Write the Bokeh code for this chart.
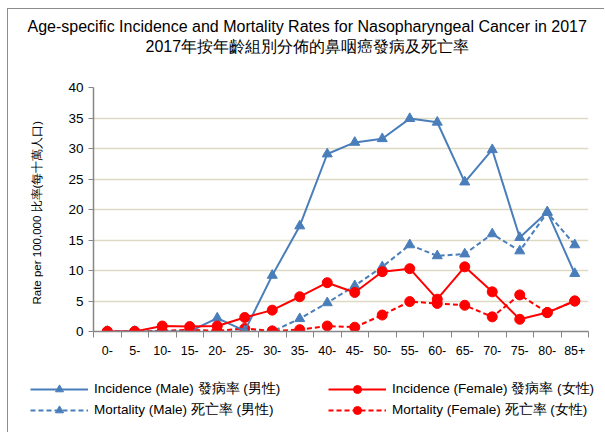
from bokeh.plotting import figure
from bokeh.models import (Range1d, FixedTicker, Legend, LegendItem, Title, ColumnDataSource)
from bokeh.embed import file_html
from bokeh.resources import INLINE

age_groups = ["0-", "5-", "10-", "15-", "20-", "25-", "30-", "35-", "40-", "45-",
              "50-", "55-", "60-", "65-", "70-", "75-", "80-", "85+"]
incidence_male = [0, 0, 0, 0, 2.2, 0.1, 9.2, 17.3, 29.1, 31.0, 31.6, 34.9, 34.3, 24.5, 29.8, 15.4, 19.6, 9.5]
incidence_female = [0, 0, 0.9, 0.8, 0.9, 2.3, 3.5, 5.7, 8.0, 6.4, 9.8, 10.3, 5.3, 10.6, 6.5, 2.0, 3.1, 5.0]
mortality_male = [0, 0, 0, 0, 0, 0, 0, 2.1, 4.7, 7.5, 10.6, 14.2, 12.4, 12.7, 16.0, 13.2, 19.5, 14.2]
mortality_female = [0, 0, 0.1, 0.3, 0.1, 0.5, 0.1, 0.3, 0.9, 0.7, 2.7, 4.9, 4.6, 4.3, 2.4, 6.0, 3.1, 5.0]
y_ticks = [0, 5, 10, 15, 20, 25, 30, 35, 40]
legend_labels = ["Incidence (Male) 發病率 (男性)", "Mortality (Male) 死亡率 (男性)",
                 "Incidence (Female) 發病率 (女性)", "Mortality (Female) 死亡率 (女性)"]

xs = [i + 0.5 for i in range(len(age_groups))]
src = ColumnDataSource(dict(x=xs, im=incidence_male, iff=incidence_female,
                            mm=mortality_male, mf=mortality_female))

BLUE = "#4a7ebb"
RED = "#ff0000"
FONT = "Liberation Sans"
W = 597

p = figure(width=W, height=360, output_backend="svg", toolbar_location=None,
           x_range=Range1d(0, len(age_groups)), y_range=Range1d(0, 40),
           min_border_left=85, min_border_right=17, min_border_top=78, min_border_bottom=38)
p.styles = {"border-left": "1px solid #8c8c8c", "border-top": "1px solid #8c8c8c",
            "margin-left": "7px", "margin-top": "8px"}
p.outline_line_color = None
p.background_fill_color = "white"

# titles (a blank spacer title keeps the two title lines clear of the frame)
spacer = Title(text=" ", text_font=FONT, text_font_size="1px", standoff=29)
t2 = Title(text="2017年按年齡組別分佈的鼻咽癌發病及死亡率", align="left", offset=52,
           text_font=FONT, text_font_size="16px", text_font_style="normal",
           text_color="#000000", standoff=2)
t1 = Title(text="Age-specific Incidence and Mortality Rates for Nasopharyngeal Cancer in 2017",
           align="left", offset=-66, text_font=FONT, text_font_size="16px",
           text_font_style="normal", text_color="#000000", standoff=0)
p.add_layout(spacer, "above")
p.add_layout(t2, "above")
p.add_layout(t1, "above")

# x axis
xt = FixedTicker(ticks=xs, minor_ticks=list(range(len(age_groups) + 1)))
p.xaxis.ticker = xt
p.xaxis.major_label_overrides = {x: lab for x, lab in zip(xs, age_groups)}
p.xaxis.major_tick_out = 0
p.xaxis.major_tick_in = 0
p.xaxis.minor_tick_out = 6
p.xaxis.minor_tick_in = 0
p.xaxis.minor_tick_line_color = "#868686"
p.xaxis.axis_line_color = "#868686"
p.xaxis.axis_line_width = 1.5
p.xaxis.major_label_text_font = FONT
p.xaxis.major_label_text_font_size = "12.5px"
p.xaxis.major_label_text_color = "#000000"
p.xaxis.major_label_standoff = 8
p.xgrid.grid_line_color = None

# y axis
p.yaxis.ticker = FixedTicker(ticks=y_ticks)
p.yaxis.minor_tick_line_color = None
p.yaxis.major_tick_out = 5
p.yaxis.major_tick_in = 0
p.yaxis.major_tick_line_color = "#868686"
p.yaxis.axis_line_color = "#868686"
p.yaxis.axis_line_width = 1.5
p.yaxis.major_label_text_font = FONT
p.yaxis.major_label_text_font_size = "13.5px"
p.yaxis.major_label_text_color = "#000000"
p.yaxis.major_label_standoff = 5
p.yaxis.axis_label = "Rate per 100,000   比率(每十萬人口)"
p.yaxis.axis_label_text_font = FONT
p.yaxis.axis_label_text_font_size = "11.5px"
p.yaxis.axis_label_text_font_style = "normal"
p.yaxis.axis_label_text_color = "#000000"
p.yaxis.axis_label_standoff = 22
p.ygrid.grid_line_color = "#ddd9c3"
p.ygrid.grid_line_width = 1.5

# series
styles = [("im", BLUE, "solid", "triangle"), ("mm", BLUE, "5 3", "triangle"),
          ("iff", RED, "solid", "circle"), ("mf", RED, "5 3", "circle")]
for key, col, dash, mk in [styles[1], styles[3], styles[0], styles[2]]:
    p.line("x", key, source=src, line_color=col, line_width=2, line_dash=dash)
    p.scatter("x", key, source=src, marker=mk, size=10, fill_color=col, line_color=col)

# legend figure (its ranges keep the legend renderers' marks out of view)
lg = figure(width=W, height=64, output_backend="svg", toolbar_location=None,
            x_range=Range1d(100, 101), y_range=Range1d(100, 101),
            min_border_left=0, min_border_right=0, min_border_top=0, min_border_bottom=0)
lg.styles = {"border-left": "1px solid #8c8c8c", "margin-left": "7px", "display": "block"}
lg.axis.visible = False
lg.grid.visible = False
lg.outline_line_color = None
items = []
for (key, col, dash, mk), lab in zip(styles, legend_labels):
    rl = lg.line("x", key, source=src, line_color=col, line_width=2, line_dash=dash)
    rm = lg.scatter("x", key, source=src, marker=mk, size=10, fill_color=col, line_color=col)
    items.append(LegendItem(label=lab, renderers=[rl, rm]))


def make_legend(its, loc):
    lgd = Legend(items=its, location=loc, orientation="vertical")
    lgd.border_line_color = None
    lgd.background_fill_alpha = 0
    lgd.padding = 0
    lgd.margin = 0
    lgd.glyph_width = 58
    lgd.glyph_height = 20
    lgd.label_height = 20
    lgd.label_standoff = 6
    lgd.spacing = 1
    lgd.label_text_font = FONT
    lgd.label_text_font_size = "13.5px"
    lgd.label_text_color = "#000000"
    return lgd


lg.add_layout(make_legend(items[:2], (22, 12)), "center")
lg.add_layout(make_legend(items[2:], (320, 12)), "center")

open("out.html", "w").write(file_html([p, lg], INLINE))
